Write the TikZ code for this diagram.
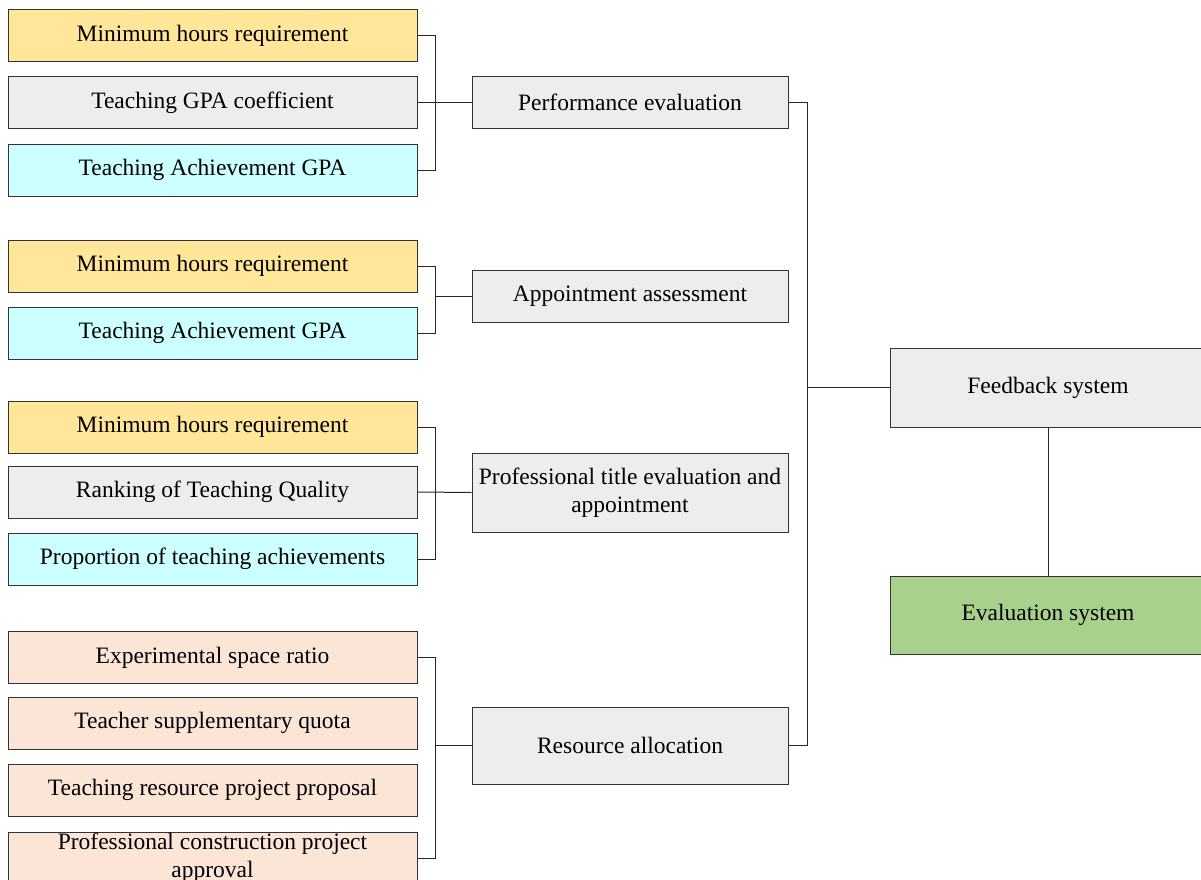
\documentclass[tikz,border=0pt]{standalone}
\usepackage{fontspec}
\setmainfont{Liberation Serif}
\usepackage{tikz}

\definecolor{cYel}{HTML}{FFE699}
\definecolor{cGry}{HTML}{EDEDED}
\definecolor{cCya}{HTML}{CCFFFF}
\definecolor{cPch}{HTML}{FBE5D6}
\definecolor{cGrn}{HTML}{A9D18E}

\begin{document}
\begin{tikzpicture}[x=1pt,y=-1pt,
    box/.style={draw=black!80,line width=1pt,inner sep=0pt,align=center,
      font=\fontsize{23.5}{28}\selectfont},
    lbox/.style={box,minimum width=409pt,minimum height=52pt},
    mbox/.style={box,fill=cGry,minimum width=316pt},
    link/.style={draw=black!85,line width=1pt}]
    \useasboundingbox (0,0) rectangle (1201,880);
    \node [lbox,fill=cYel] (l1) at (212.5,36) {Minimum hours requirement};
    \node [lbox,fill=cGry] (l2) at (212.5,102.5) {Teaching GPA coefficient};
    \node [lbox,fill=cCya] (l3) at (212.5,170) {Teaching Achievement GPA};
    \node [lbox,fill=cYel] (l4) at (212.5,266) {Minimum hours requirement};
    \node [lbox,fill=cCya] (l5) at (212.5,333) {Teaching Achievement GPA};
    \node [lbox,fill=cYel] (l6) at (212.5,427) {Minimum hours requirement};
    \node [lbox,fill=cGry] (l7) at (212.5,492) {Ranking of Teaching Quality};
    \node [lbox,fill=cCya] (l8) at (212.5,559) {Proportion of teaching achievements};
    \node [lbox,fill=cPch] (l9) at (212.5,657.5) {Experimental space ratio};
    \node [lbox,fill=cPch] (l10) at (212.5,723) {Teacher supplementary quota};
    \node [lbox,fill=cPch] (l11) at (212.5,790) {Teaching resource project proposal};
    \node [lbox,fill=cPch] (l12) at (212.5,858) {Professional construction project\\approval};
    \node [mbox,minimum height=52pt] (m1) at (630,102.5) {Performance evaluation};
    \node [mbox,minimum height=52pt] (m2) at (630,296) {Appointment assessment};
    \node [mbox,minimum height=79pt] (m3) at (630,492.5) {Professional title evaluation and\\appointment};
    \node [mbox,minimum height=77pt] (m4) at (630,745.5) {Resource allocation};
    \node [mbox,minimum height=79pt] (fb) at (1048,387.5) {Feedback system};
    \node [mbox,fill=cGrn,minimum height=78pt] (ev) at (1048,615) {Evaluation system};
    % brackets
    \draw [link] (l1.east) -- ++(18,0) |- (l3.east); \draw [link] (l2.east) -- (m1.west);
    \draw [link] (l4.east) -- ++(18,0) |- (l5.east); \draw [link] (m2.west) -- ++(-37,0);
    \draw [link] (l6.east) -- ++(18,0) |- (l8.east); \draw [link] (l7.east) -- (m3.west);
    \draw [link] (l9.east) -- ++(18,0) |- (l12.east); \draw [link] (m4.west) -- ++(-37,0);
    \draw [link] (m1.east) -- ++(19,0) |- (m4.east); \draw [link] (fb.west) -- ++(-83,0);
    \draw [link] (fb) -- (ev);
\end{tikzpicture}
\end{document}
